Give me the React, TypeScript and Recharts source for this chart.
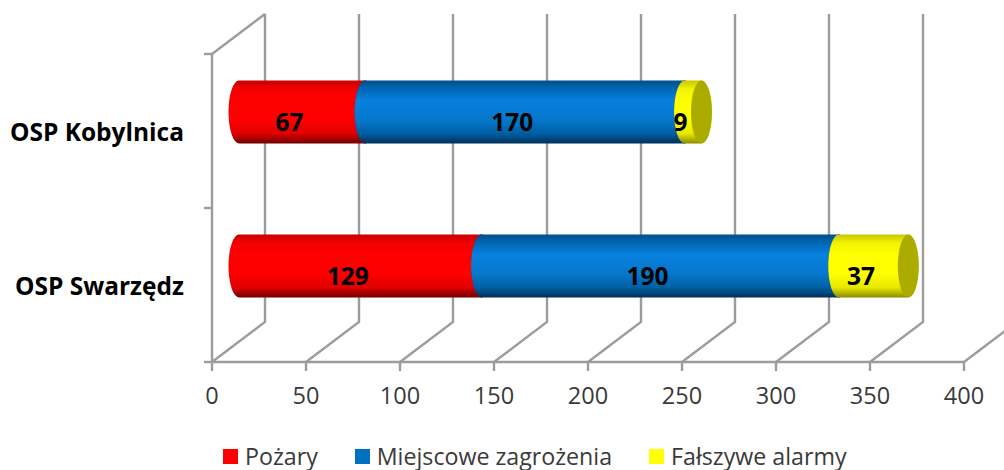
import { BarChart, Bar, XAxis, YAxis, CartesianGrid, Legend, LabelList } from 'recharts'

const categories = ['OSP Kobylnica', 'OSP Swarzędz']
const pozary = [67, 129]
const miejscowe = [170, 190]
const falszywe = [9, 37]
const xTicks = [0, 50, 100, 150, 200, 250, 300, 350, 400]

const data = categories.map((name, i) => ({
  name,
  pozary: pozary[i],
  miejscowe: miejscowe[i],
  falszywe: falszywe[i],
}))

const FONT = '"Open Sans", Lato, sans-serif'
const GRID = '#9c9c9c'
// oblique projection of the 3D box
const DEPTH_X = 53
const DEPTH_Y = 40
// cylinders sit half way into the box
const BAR_DX = 27
const BAR_DY = 19.5
const CAP_RX = 10.5

const gradients = [
  { id: 'gPozary', color: '#FF0000', stops: ['#c80000', '#f40000', '#ff0000', '#ff0000', '#e00000', '#700000'] },
  { id: 'gMiejscowe', color: '#0070C0', stops: ['#00508c', '#0068b4', '#0880de', '#0678cc', '#005fa4', '#00305a'] },
  { id: 'gFalszywe', color: '#FFFF00', stops: ['#c8c800', '#f4f400', '#ffff00', '#ffff00', '#e8e800', '#8c8c00'] },
]
const stopAt = ['0%', '14%', '32%', '62%', '84%', '100%']

function Cylinder(props: any) {
  const { x, y, width, height, gradientId, capColor } = props
  const left = x + BAR_DX
  const right = left + width
  const top = y - BAR_DY
  const bottom = top + height
  const ry = height / 2
  return (
    <g>
      <path
        d={`M${left},${top} A${CAP_RX},${ry} 0 0 0 ${left},${bottom} L${right},${bottom} A${CAP_RX},${ry} 0 0 0 ${right},${top} Z`}
        fill={`url(#${gradientId})`}
      />
      <ellipse cx={right} cy={top + ry} rx={CAP_RX} ry={ry} fill={capColor} />
    </g>
  )
}

function BarValue(props: any) {
  const { x, y, width, height, value } = props
  return (
    <text
      x={x + width / 2 + 14.5}
      y={y + height / 2 - 10}
      textAnchor="middle"
      dominantBaseline="central"
      fontFamily={FONT}
      fontWeight={700}
      fontSize={24.5}
      fill="#000"
    >
      {value}
    </text>
  )
}

function VerticalWall(props: any) {
  const { x1, y1, y2 } = props
  const top = Math.min(y1, y2)
  const bottom = Math.max(y1, y2)
  const backX = x1 + DEPTH_X
  return (
    <path
      d={`M${x1},${bottom} L${backX},${bottom - DEPTH_Y} L${backX},${top - DEPTH_Y}`}
      fill="none"
      stroke={GRID}
      strokeWidth={2.4}
    />
  )
}

function HorizontalWall(props: any) {
  const { x1, y1, index } = props
  return (
    <g>
      <line x1={x1 - 8} x2={x1} y1={y1} y2={y1} stroke={GRID} strokeWidth={2.4} />
      {index === 0 && (
        <line x1={x1} y1={y1} x2={x1 + DEPTH_X} y2={y1 - DEPTH_Y} stroke={GRID} strokeWidth={2.4} />
      )}
    </g>
  )
}

function LegendRow({ payload }: any) {
  return (
    <div style={{ display: 'flex', justifyContent: 'flex-start', gap: 37, fontFamily: FONT, fontSize: 23.2, color: '#3a3a3a' }}>
      {(payload ?? []).map((item: any) => (
        <div key={item.value} style={{ display: 'flex', alignItems: 'center', gap: 7, whiteSpace: 'nowrap', lineHeight: '24px' }}>
          <span style={{ width: 15, height: 15, background: item.color, display: 'inline-block' }} />
          {item.value}
        </div>
      ))}
    </div>
  )
}

export default function App() {
  const series = [
    { key: 'pozary', name: 'Pożary', g: gradients[0], cap: '#a00000' },
    { key: 'miejscowe', name: 'Miejscowe zagrożenia', g: gradients[1], cap: '#004a80' },
    { key: 'falszywe', name: 'Fałszywe alarmy', g: gradients[2], cap: '#ABAB00' },
  ]
  return (
    <div style={{ position: 'absolute', left: 0, top: 0, width: 1004, height: 470, background: '#fff', overflow: 'hidden' }}>
      <BarChart
        width={1004}
        height={470}
        data={data}
        layout="vertical"
        barSize={63}
        margin={{ top: 54, right: 40, bottom: 0, left: 0 }}
      >
        <defs>
          {gradients.map((g) => (
            <linearGradient key={g.id} id={g.id} x1="0" y1="0" x2="0" y2="1">
              {g.stops.map((c, i) => (
                <stop key={i} offset={stopAt[i]} stopColor={c} />
              ))}
            </linearGradient>
          ))}
        </defs>
        <CartesianGrid
          vertical={(p: any) => <VerticalWall key={`v${p.index}`} {...p} />}
          horizontal={(p: any) => <HorizontalWall key={`h${p.index}`} {...p} />}
          horizontalCoordinatesGenerator={({ offset }: any) => [
            offset.top,
            offset.top + offset.height / 2,
            offset.top + offset.height,
          ]}
        />
        <XAxis
          type="number"
          domain={[0, 400]}
          ticks={xTicks}
          height={108}
          interval={0}
          tickSize={9}
          tickMargin={16}
          axisLine={{ stroke: GRID, strokeWidth: 2.4 }}
          tickLine={{ stroke: GRID, strokeWidth: 2.4 }}
          tick={{ fontFamily: FONT, fontSize: 23.5, fill: '#3a3a3a' }}
        />
        <YAxis
          type="category"
          dataKey="name"
          width={212}
          interval={0}
          tickLine={false}
          tickMargin={22}
          axisLine={{ stroke: GRID, strokeWidth: 2.4 }}
          tick={{ fontFamily: FONT, fontSize: 24.5, fontWeight: 700, fill: '#000', dy: 1.5 }}
        />
        <Legend
          layout="horizontal"
          verticalAlign="middle"
          align="center"
          itemSorter={null}
          content={<LegendRow />}
          wrapperStyle={{ left: 223, top: 444, width: 740 }}
        />
        {series.map((s) => (
          <Bar
            key={s.key}
            dataKey={s.key}
            name={s.name}
            stackId="a"
            fill={s.g.color}
            isAnimationActive={false}
            shape={(p: any) => <Cylinder {...p} gradientId={s.g.id} capColor={s.cap} />}
          >
            <LabelList dataKey={s.key} content={<BarValue />} />
          </Bar>
        ))}
      </BarChart>
    </div>
  )
}
